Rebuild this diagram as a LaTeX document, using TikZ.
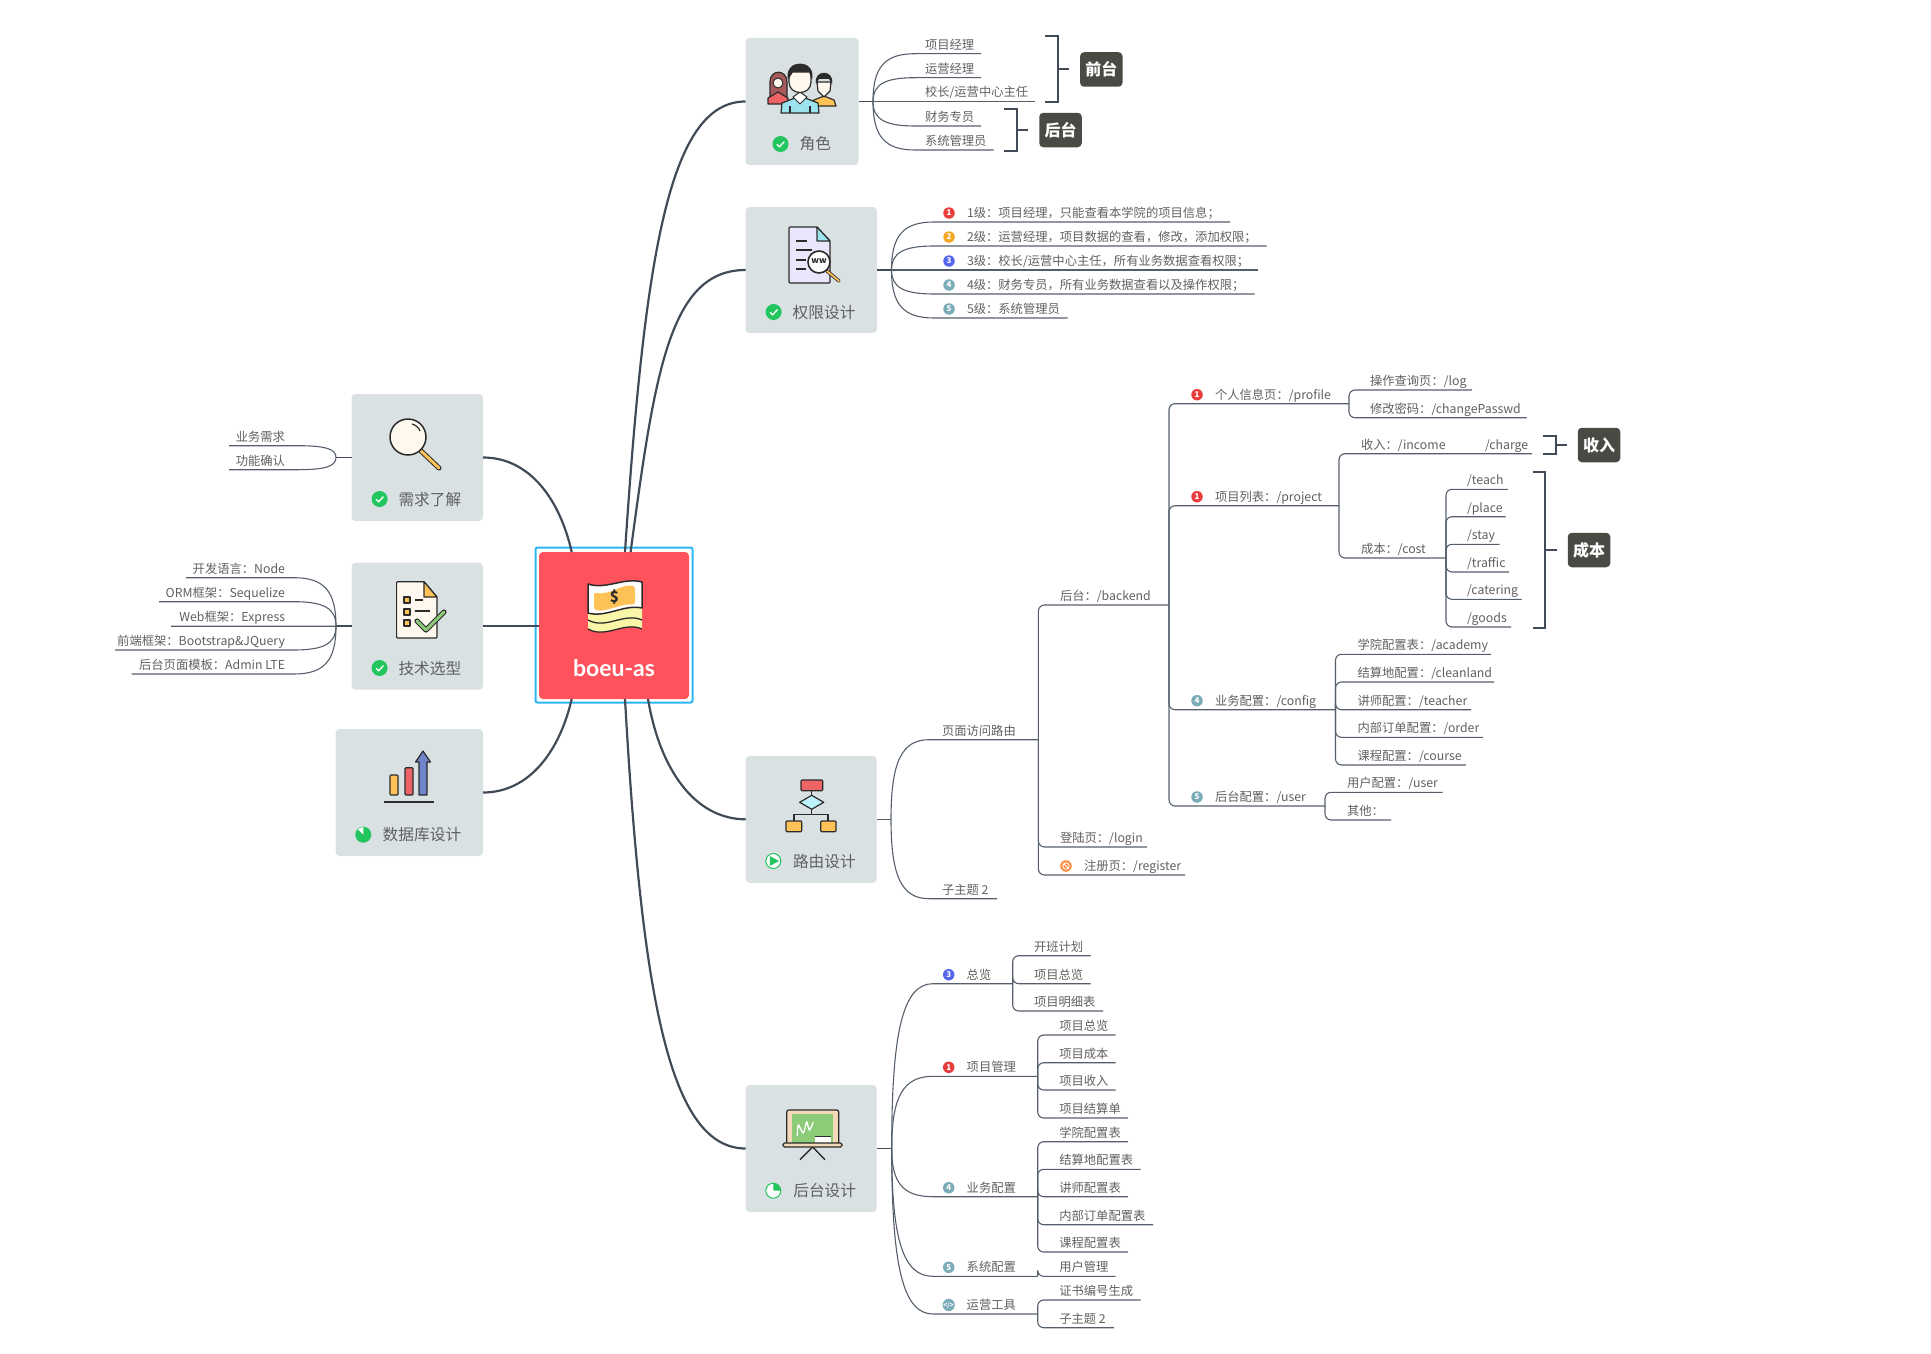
\documentclass[tikz,border=0pt]{standalone}
\usepackage{fontspec}
\setmainfont{Noto Sans CJK SC}
\newfontfamily\rootfont{Lato}
\usetikzlibrary{calc}
\definecolor{cdae1e3}{RGB}{218,225,227}
\definecolor{cff525c}{RGB}{255,82,92}
\definecolor{c2db6f5}{RGB}{45,182,245}
\definecolor{c414b57}{RGB}{65,75,87}
\definecolor{c5a6470}{RGB}{85,95,107}
\definecolor{c606060}{RGB}{96,96,96}
\definecolor{c4a4a45}{RGB}{74,74,69}
\definecolor{c22c55e}{RGB}{34,197,94}
\definecolor{ce93c3c}{RGB}{233,60,60}
\definecolor{cf5a623}{RGB}{245,166,35}
\definecolor{c5566ee}{RGB}{85,102,238}
\definecolor{c7aabb8}{RGB}{122,171,184}
\definecolor{cff8a3c}{RGB}{255,138,60}
\definecolor{c2b2b2b}{RGB}{43,43,43}
\definecolor{cffc256}{RGB}{255,194,86}
\definecolor{cee6466}{RGB}{238,100,102}
\definecolor{c9be3ef}{RGB}{155,227,239}
\definecolor{ce9e6fb}{RGB}{233,230,251}
\definecolor{cfff8ee}{RGB}{255,248,238}
\definecolor{c8ccb78}{RGB}{140,203,120}
\definecolor{c6f84c9}{RGB}{111,132,201}
\definecolor{cf9f6a8}{RGB}{249,246,168}
\definecolor{cbdf1fb}{RGB}{189,241,251}
\definecolor{cf3d9b8}{RGB}{243,217,184}
\definecolor{ca85a5a}{RGB}{168,90,90}
\tikzset{
  link/.style={draw=c5a6470,line width=1.1pt},
  mainlink/.style={draw=c414b57,line width=2.2pt},
  stem/.style={draw=c414b57,line width=1.6pt},
  bracketline/.style={draw=c414b57,line width=1.8pt,line join=miter},
  panel/.style={fill=cdae1e3,rounded corners=4pt},
  tag/.style={fill=c4a4a45,rounded corners=4pt,text=white,font=\fontsize{16}{18}\bfseries\selectfont,minimum width=42.5pt,minimum height=34.5pt},
  toptext/.style={anchor=base west,text=c606060,font=\fontsize{12.3}{14}\selectfont},
  paneltitle/.style={anchor=base west,text=c606060,font=\fontsize{15.7}{18}\selectfont},
  prio/.style={circle,minimum size=11.5pt,text=white,font=\fontsize{8}{8}\bfseries\selectfont},
  state/.style={circle,minimum size=16pt},
  icon/.style={draw=c2b2b2b,line width=1.2pt,line join=round},
  branch/.style={to path={.. controls ($(\tikztostart)!0.72!(\tikztostart |- \tikztotarget)$) and ($(\tikztotarget)!0.72!(\tikztostart |- \tikztotarget)$) .. (\tikztotarget)}}
}
\newcommand{\curvetopic}[8][]{
  \coordinate (#3-in) at (#4,#7);
  \coordinate (#3-end) at (#6,#7);
  \node[toptext,#1] (#3) at (#5,#7-4.6) {#8};
  \draw[link] (#2) to[branch] (#3-in) -- (#3-end);
}
\newcommand{\treetopic}[6]{
  \coordinate (#2-end) at (#4,#5);
  \node[toptext] (#2) at (#3,#5-4.6) {#6};
  \draw[link,rounded corners=6pt] (#1) |- (#2-end);
}
\newcommand{\prioat}[5]{\node[prio,fill=#4] (#1) at (#2,#3-9) {#5};}
\newcommand{\donemark}[3]{
  \node[state,fill=c22c55e] (#1) at (#2,#3) {};
  \draw[white,line width=1.3pt] ([shift={(-3.6,0.3)}]#1.center) -- ([shift={(-1,2.8)}]#1.center) -- ([shift={(3.8,-2.4)}]#1.center);
}
\newcommand{\bracketto}[6]{
  \coordinate (#1-a) at (#2,#4);
  \coordinate (#1-b) at (#3,#4);
  \coordinate (#1-c) at (#3,#5);
  \coordinate (#1-d) at (#2,#5);
  \coordinate (#1-m) at (#3,#4/2+#5/2);
  \coordinate (#1-t) at (#6,#4/2+#5/2);
  \draw[bracketline] (#1-a) -- (#1-b) -- (#1-c) -- (#1-d);
  \draw[bracketline] (#1-m) -- (#1-t);
}
\begin{document}
\begin{tikzpicture}[y=1pt, x=1pt, yscale=-1, inner sep=0pt, outer sep=0pt]
  \useasboundingbox (0,0) rectangle (1931,1354);
  \node[draw=c2db6f5,line width=2pt,rounded corners=2pt,minimum width=157pt,minimum height=155pt] (rootframe) at (614,625) {};
  \node[fill=cff525c,rounded corners=4pt,minimum width=150pt,minimum height=147pt] (root) at (614,625.5) {};
  \node[panel,minimum width=113pt,minimum height=127pt] (role) at (802,101.5) {};
  \node[panel,minimum width=131.4pt,minimum height=126pt] (perm) at (811.3,270) {};
  \node[panel,minimum width=131.5pt,minimum height=127pt] (req) at (417.25,457.5) {};
  \node[panel,minimum width=131.5pt,minimum height=127pt] (tech) at (417.25,626.2) {};
  \node[panel,minimum width=147.3pt,minimum height=127pt] (db) at (409.35,792.5) {};
  \node[panel,minimum width=131pt,minimum height=127pt] (route) at (811.2,819.3) {};
  \node[panel,minimum width=131pt,minimum height=127pt] (admin) at (811.2,1148.5) {};
  \coordinate (rootrole) at (625,552);
  \coordinate (rootperm) at (630.6,552);
  \coordinate (rootreq) at (571.7,552);
  \coordinate (roottech) at (539,626.2);
  \coordinate (rootdb) at (571.7,699);
  \coordinate (rootadmin) at (625,699);
  \coordinate (rootroute) at (648,699);
  \draw[mainlink] (rootrole) .. controls (645,250) and (670,101.5) .. (role.west);
  \draw[mainlink] (rootperm) .. controls (655,370) and (670,270) .. (perm.west);
  \draw[mainlink] (rootreq) .. controls (560,500) and (530,457.5) .. (req.east);
  \draw[mainlink] (roottech) -- (tech.east);
  \draw[mainlink] (rootdb) .. controls (560,750) and (530,792.5) .. (db.east);
  \draw[mainlink] (rootadmin) .. controls (642,1000) and (670,1148.5) .. (admin.west);
  \draw[mainlink] (rootroute) .. controls (660,770) and (695,819.3) .. (route.west);
  \coordinate (rolehub) at (873,101.5);
  \coordinate (permhub) at (891.5,270);
  \coordinate (reqhub) at (336,457.5);
  \coordinate (techhub) at (336,626.2);
  \coordinate (routehub) at (891,819.3);
  \coordinate (adminhub) at (891.7,1148.5);
  \draw[stem] (role.east) -- (rolehub);
  \draw[stem] (perm.east) -- (permhub);
  \draw[stem] (req.west) -- (reqhub);
  \draw[stem] (tech.west) -- (techhub);
  \draw[link] (route.east) -- (routehub);
  \draw[stem] (admin.east) -- (adminhub);
  \curvetopic{rolehub}{pm}{915}{925}{981}{53.7}{项目经理}
  \curvetopic{rolehub}{om}{915}{925}{981}{77.7}{运营经理}
  \curvetopic{rolehub}{head}{915}{925}{1034.6}{101.5}{校长/运营中心主任}
  \curvetopic{rolehub}{fin}{915}{925}{981}{126}{财务专员}
  \curvetopic{rolehub}{sys}{915}{925}{993.6}{150}{系统管理员}
  \bracketto{frontbr}{1045}{1058}{36}{102}{1069}
  \bracketto{backbr}{1004}{1017}{109}{151}{1028}
  \node[tag] (fronttag) at (1101.3,69.5) {前台};
  \node[tag] (backtag) at (1060.5,130) {后台};
  \curvetopic{permhub}{lvla}{934}{967}{1230}{222}{1级：项目经理，只能查看本学院的项目信息；}
  \curvetopic{permhub}{lvlb}{934}{967}{1266.5}{246}{2级：运营经理，项目数据的查看，修改，添加权限；}
  \curvetopic{permhub}{lvlc}{934}{967}{1258}{270}{3级：校长/运营中心主任，所有业务数据查看权限；}
  \curvetopic{permhub}{lvld}{934}{967}{1254.6}{294}{4级：财务专员，所有业务数据查看以及操作权限；}
  \curvetopic{permhub}{lvle}{934}{967}{1067.5}{318}{5级：系统管理员}
  \prioat{pa}{949}{222}{ce93c3c}{1}
  \prioat{pb}{949}{246}{cf5a623}{2}
  \prioat{pc}{949}{270}{c5566ee}{3}
  \prioat{pd}{949}{294}{c7aabb8}{4}
  \prioat{pe}{949}{318}{c7aabb8}{5}
  \curvetopic[anchor=base east]{reqhub}{biz}{298}{285}{229}{445.7}{业务需求}
  \curvetopic[anchor=base east]{reqhub}{func}{298}{285}{229}{469.7}{功能确认}
  \curvetopic[anchor=base east]{techhub}{lang}{294}{285}{186}{577.7}{开发语言：Node}
  \curvetopic[anchor=base east]{techhub}{orm}{294}{285}{159}{601.7}{ORM框架：Sequelize}
  \curvetopic[anchor=base east]{techhub}{web}{294}{285}{171}{626.2}{Web框架：Express}
  \curvetopic[anchor=base east]{techhub}{front}{294}{285}{115}{650}{前端框架：Bootstrap\&JQuery}
  \curvetopic[anchor=base east]{techhub}{tpl}{294}{285}{131.6}{674}{后台页面模板：Admin LTE}
  \curvetopic{routehub}{page}{929}{942}{1038.4}{739.7}{页面访问路由}
  \curvetopic{routehub}{subb}{929}{942}{997}{898.7}{子主题 2}
  \treetopic{page-end}{backend}{1060}{1169}{605}{后台：/backend}
  \treetopic{page-end}{login}{1060}{1147}{847}{登陆页：/login}
  \treetopic{page-end}{register}{1084}{1185}{875}{注册页：/register}
  \prioat{preg}{1066}{875}{cff8a3c}{}
  \draw[white,line width=0.9pt] (preg) circle (3.2);
  \draw[white,line width=0.9pt] ([shift={(-2.2,-2.2)}]preg.center) -- ([shift={(2.2,2.2)}]preg.center);
  \treetopic{backend-end}{profile}{1215}{1349}{403.7}{个人信息页：/profile}
  \treetopic{backend-end}{project}{1215}{1339}{505.7}{项目列表：/project}
  \treetopic{backend-end}{config}{1215}{1335.5}{709.7}{业务配置：/config}
  \treetopic{backend-end}{user}{1215}{1325}{806}{后台配置：/user}
  \prioat{pprofile}{1197}{403.7}{ce93c3c}{1}
  \prioat{pproject}{1197}{505.7}{ce93c3c}{1}
  \prioat{pconfig}{1197}{709.7}{c7aabb8}{4}
  \prioat{puser}{1197}{806}{c7aabb8}{5}
  \treetopic{profile-end}{oplog}{1370}{1472}{390}{操作查询页：/log}
  \treetopic{profile-end}{passwd}{1370}{1526.5}{417.7}{修改密码：/changePasswd}
  \treetopic{project-end}{income}{1361}{1532}{453.7}{收入：/income}
  \node[toptext] (charge) at (1485,449.1) {/charge};
  \treetopic{project-end}{cost}{1361}{1446}{558}{成本：/cost}
  \treetopic{cost-end}{teach}{1467}{1508}{489.3}{/teach}
  \treetopic{cost-end}{place}{1467}{1505.7}{516.7}{/place}
  \treetopic{cost-end}{stay}{1467}{1499.6}{544.3}{/stay}
  \treetopic{cost-end}{traffic}{1467}{1509}{572}{/traffic}
  \treetopic{cost-end}{catering}{1467}{1521.6}{599.3}{/catering}
  \treetopic{cost-end}{goods}{1467}{1511}{627}{/goods}
  \bracketto{incomebr}{1543}{1556}{436}{454}{1567}
  \bracketto{costbr}{1532.6}{1545}{472}{628}{1557}
  \node[tag] (incometag) at (1599,445) {收入};
  \node[tag] (costtag) at (1589,550) {成本};
  \treetopic{config-end}{academy}{1357.5}{1491}{654.3}{学院配置表：/academy}
  \treetopic{config-end}{clean}{1357.5}{1494}{682}{结算地配置：/cleanland}
  \treetopic{config-end}{teacher}{1357.5}{1471}{709.7}{讲师配置：/teacher}
  \treetopic{config-end}{order}{1357.5}{1483}{737.3}{内部订单配置：/order}
  \treetopic{config-end}{course}{1357.5}{1466}{765}{课程配置：/course}
  \treetopic{user-end}{usercfg}{1347}{1442.5}{792.3}{用户配置：/user}
  \treetopic{user-end}{other}{1347}{1391}{820}{其他：}
  \curvetopic{adminhub}{overview}{933}{966.7}{1012.7}{983.7}{总览}
  \curvetopic{adminhub}{projmgr}{933}{966.7}{1037.7}{1076.3}{项目管理}
  \curvetopic{adminhub}{bizcfg}{933}{966.7}{1037.7}{1196.7}{业务配置}
  \curvetopic{adminhub}{syscfg}{933}{966.7}{1037.7}{1276.3}{系统配置}
  \curvetopic{adminhub}{tools}{933}{966.7}{1037.7}{1314}{运营工具}
  \prioat{poverview}{948.7}{983.7}{c5566ee}{3}
  \prioat{pprojmgr}{948.7}{1076.3}{ce93c3c}{1}
  \prioat{pbizcfg}{948.7}{1196.7}{c7aabb8}{4}
  \prioat{psyscfg}{948.7}{1276.3}{c7aabb8}{5}
  \node[prio,fill=c7aabb8,font=\fontsize{6.5}{7}\bfseries\selectfont] (ptools) at (948.7,1305) {</>};
  \treetopic{overview-end}{kaiban}{1034}{1090.7}{955.7}{开班计划}
  \treetopic{overview-end}{zonglan}{1034}{1090.7}{983.7}{项目总览}
  \treetopic{overview-end}{mingxi}{1034}{1103}{1011}{项目明细表}
  \treetopic{projmgr-end}{pmall}{1059.3}{1115.7}{1035}{项目总览}
  \treetopic{projmgr-end}{pmcost}{1059.3}{1115.7}{1062.7}{项目成本}
  \treetopic{projmgr-end}{pminc}{1059.3}{1115.7}{1090}{项目收入}
  \treetopic{projmgr-end}{pmset}{1059.3}{1128}{1118}{项目结算单}
  \treetopic{bizcfg-end}{bca}{1059.3}{1128}{1141.7}{学院配置表}
  \treetopic{bizcfg-end}{bcb}{1059.3}{1140.7}{1169.3}{结算地配置表}
  \treetopic{bizcfg-end}{bcc}{1059.3}{1128}{1196.7}{讲师配置表}
  \treetopic{bizcfg-end}{bcd}{1059.3}{1153}{1224.7}{内部订单配置表}
  \treetopic{bizcfg-end}{bce}{1059.3}{1128}{1252}{课程配置表}
  \treetopic{syscfg-end}{usermgr}{1059.3}{1115.7}{1276.3}{用户管理}
  \treetopic{tools-end}{cert}{1059.3}{1140.7}{1300}{证书编号生成}
  \treetopic{tools-end}{subc}{1059.3}{1114}{1327.7}{子主题 2}
  \node[paneltitle] (roletitle) at (799.6,149.5) {角色};
  \node[paneltitle] (permtitle) at (792.7,318.5) {权限设计};
  \node[paneltitle] (reqtitle) at (398.5,505.5) {需求了解};
  \node[paneltitle] (techtitle) at (398.5,674) {技术选型};
  \node[paneltitle] (dbtitle) at (382.7,840) {数据库设计};
  \node[paneltitle] (routetitle) at (793,867.5) {路由设计};
  \node[paneltitle] (admintitle) at (793.3,1196) {后台设计};
  \node[text=white,font=\rootfont\fontsize{23}{26}\bfseries\selectfont] (roottitle) at (614,668) {boeu-as};
  \donemark{srole}{780.5}{144}
  \donemark{sperm}{773.6}{312}
  \donemark{sreq}{379.6}{499}
  \donemark{stech}{379.6}{668}
  \node[state,fill=c22c55e] (sdb) at (363.3,834.7) {};
  \fill[white] (sdb.center) -- ++(0,-7.5) arc[start angle=90,end angle=135,radius=7.5,y radius=-7.5] -- cycle;
  \node[state,fill=white,draw=c22c55e,line width=1pt,minimum size=15pt] (sroute) at (773.3,861) {};
  \fill[c22c55e] (769.8,856) -- (779,861) -- (769.8,866) -- cycle;
  \node[state,fill=white,draw=c22c55e,line width=1pt,minimum size=15pt] (sadmin) at (773.3,1190.7) {};
  \fill[c22c55e] (sadmin.center) -- ++(0,-7) arc[start angle=90,end angle=0,radius=7,y radius=-7] -- cycle;
  % role icon
  \path[icon,fill=ca85a5a] (770,97) -- (770,82) .. controls (770,69) and (787,69) .. (787,82) -- (787,97) -- cycle;
  \path[icon,fill=cee6466] (768,104) -- (768,98) -- (778,92) -- (788,98) -- (788,104) -- cycle;
  \path[icon,fill=cfff8ee,line width=1pt] (778,83) circle (5);
  \path[icon,fill=cffc256] (812,106) -- (814,100) -- (824,96) -- (834,100) -- (836,106) -- cycle;
  \path[icon,fill=cfff8ee] (824,97) -- (818,91) -- (817,82) -- (831,82) -- (830,91) -- cycle;
  \path[fill=c2b2b2b] (816,84) .. controls (813,69) and (835,69) .. (832,84) -- (829,79) -- (819,79) -- cycle;
  \path[icon,fill=c9be3ef] (781,113) -- (782,103) -- (800,96) -- (818,103) -- (819,113) -- cycle;
  \draw[icon] (790,113) -- (790,106) (810,113) -- (810,106);
  \path[icon,fill=white,line width=1pt] (793,97) -- (800,104) -- (807,97) -- (800,92) -- cycle;
  \path[icon,fill=cfff8ee] (789,72) -- (811,72) -- (811,82) .. controls (811,96) and (789,96) .. (789,82) -- cycle;
  \path[fill=c2b2b2b] (788,80) .. controls (783,58) and (817,58) .. (812,80) -- (809,72) -- (793,72) -- cycle;
  % permission icon
  \path[icon,fill=ce9e6fb,rounded corners=1pt] (789,227) -- (817,227) -- (830,241) -- (830,283) -- (789,283) -- cycle;
  \path[icon,fill=c9be3ef] (817,227) -- (817,241) -- (830,241) -- cycle;
  \draw[icon] (796,241) -- (807,241) (796,250) -- (812,250) (796,260) -- (806,260) (796,269) -- (806,269);
  \draw[draw=c2b2b2b,line width=3.4pt,line cap=round] (827,271) -- (839,281);
  \draw[draw=cffc256,line width=1.8pt,line cap=round] (827,271) -- (839,281);
  \path[icon,fill=white,line width=1.6pt] (819,262) circle (11);
  \node[font=\fontsize{8.5}{9}\bfseries\selectfont,text=c2b2b2b] (wwmark) at (819,261.5) {ww};
  % requirement icon
  \draw[draw=c2b2b2b,line width=5pt,line cap=round] (421,451) -- (439,468);
  \draw[draw=cffc256,line width=3pt,line cap=round] (421,451) -- (439,468);
  \path[icon,fill=cfff8ee,line width=1.5pt] (408,437) circle (18);
  \draw[icon] (412,424) .. controls (416,425) and (419,428) .. (420,431);
  % tech icon
  \path[icon,fill=cfff8ee,rounded corners=1pt] (396.6,581.7) -- (424,581.7) -- (437,597) -- (437,638) -- (396.6,638) -- cycle;
  \path[icon,fill=cffc256] (424,581.7) -- (424,597) -- (437,597) -- cycle;
  \path[icon,fill=cffc256] (404,597) rectangle (410,603);
  \path[icon,fill=cffc256] (404,609) rectangle (410,615);
  \path[icon,fill=cffc256] (404,620) rectangle (410,626);
  \draw[icon] (415,600) -- (423,600) (415,611) -- (430,611);
  \draw[draw=c2b2b2b,line width=5.2pt,line cap=round,line join=round] (417,621) -- (426,630) -- (444,612);
  \draw[draw=c8ccb78,line width=3pt,line cap=round,line join=round] (417,621) -- (426,630) -- (444,612);
  % db icon
  \path[icon,fill=cffc256,rounded corners=1pt] (390,775) rectangle (398,795);
  \path[icon,fill=cee6466,rounded corners=1pt] (405,767.7) rectangle (413,795);
  \path[icon,fill=c6f84c9] (419,795) -- (419,762) -- (415.5,762) -- (423,751) -- (430.5,762) -- (427,762) -- (427,795) -- cycle;
  \draw[draw=c2b2b2b,line width=1.6pt] (384,802) -- (434,802);
  % route icon
  \draw[icon,line width=1.4pt] (811.7,790) -- (811.7,815) (794,821) -- (794,814.3) -- (828,814.3) -- (828,821);
  \path[icon,fill=cee6466,rounded corners=1pt] (801,780) rectangle (822.7,790.7);
  \path[icon,fill=cbdf1fb] (799.7,802.3) -- (811.7,795.3) -- (823.7,802.3) -- (811.7,809.3) -- cycle;
  \path[icon,fill=cffc256,rounded corners=1pt] (786,821) rectangle (801.7,831.7);
  \path[icon,fill=cffc256,rounded corners=1pt] (820.7,821) rectangle (836,831.7);
  % admin icon
  \draw[icon,line width=1.4pt] (800,1159.7) -- (812.7,1147) -- (825,1159.7);
  \path[icon,fill=cf3d9b8,rounded corners=2pt] (786.7,1145) -- (786.7,1110) -- (838.7,1110) -- (838.7,1145) -- cycle;
  \path[fill=c8ccb78] (791.7,1114) rectangle (833,1142.7);
  \path[fill=white] (815,1137) rectangle (831,1142.7);
  \draw[c2b2b2b,line width=0.8pt] (815,1136.7) -- (831,1136.7);
  \draw[white,line width=1.3pt] plot[smooth] coordinates {(797.3,1136) (798.3,1125) (803.3,1133) (806.7,1122) (809.3,1130) (813.3,1122)};
  \path[icon,fill=cf3d9b8,rounded corners=1.5pt] (783,1143) rectangle (842,1147);
  % root icon
  \path[fill=cf9f6a8] (588,608) -- (642,606) -- (642,629) .. controls (624,621) and (606,639) .. (588,629) -- cycle;
  \draw[c2b2b2b,line width=1.3pt] (588,620) .. controls (606,630) and (624,612) .. (642,620);
  \draw[c2b2b2b,line width=1.3pt] (588,629) .. controls (606,639) and (624,621) .. (642,629);
  \path[icon,fill=white,line width=1.5pt] (588,584) .. controls (606,590) and (624,577) .. (642,582) -- (642,608) .. controls (624,604) and (606,618) .. (588,613) -- cycle;
  \path[fill=cffc256,rounded corners=3pt] (594,592) .. controls (608,596) and (622,584) .. (635,586) -- (635,605) .. controls (622,603) and (608,612) .. (594,610) -- cycle;
  \node[font=\fontsize{15}{16}\bfseries\selectfont,text=c2b2b2b] (dollar) at (614.5,597.5) {\$};
\end{tikzpicture}
\end{document}
